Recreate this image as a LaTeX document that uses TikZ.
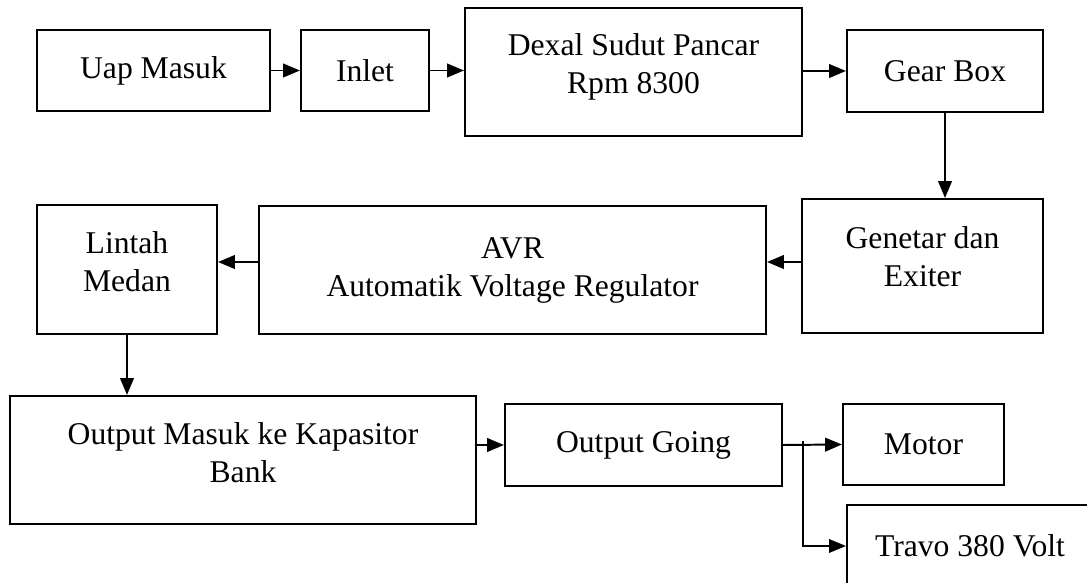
\documentclass[tikz,border=0pt]{standalone}
\usepackage{fontspec}
\setmainfont{Liberation Serif}
\usetikzlibrary{arrows.meta, calc, positioning}
\tikzset{
  blok/.style 2 args = {draw, line width=1.5pt, align=center, inner sep=0pt,
                        minimum width=#1*0.025cm, minimum height=#2*0.025cm,
                        font=\fontsize{22.5}{27}\selectfont},
  naik/.style        = {text depth=#1},
  panah/.style       = {-{Triangle[length=0.42cm, width=0.34cm]}, line width=1.4pt},
  cabang/.style      = {-{Triangle[length=0.42cm, width=0.34cm]}, line width=0.9pt},
}

\begin{document}
\begin{tikzpicture}[x=0.025cm, y=-0.025cm]
\useasboundingbox (0,0) rectangle (1087,583);
\clip (0,0) rectangle (1087,583);

% ---- top row ----------------------------------------------------------------
\node[blok={233}{81}]  (uap)    at (153.5,70.5) {Uap Masuk};
\node[blok={128}{81}]  (inlet)  at (365,70.5)   {Inlet};
\node[blok={337}{128}, naik=12pt] (dexal) at (633.5,72) {Dexal Sudut Pancar\\Rpm 8300};
\node[blok={196}{82}]  (gear)   at (945,71)     {Gear Box};

% ---- middle row ---------------------------------------------------------------
\node[blok={241}{134}, naik=12.8pt] (genetar) at (922.5,266) {Genetar dan\\Exiter};
\node[blok={507}{128}]              (avr)     at (512.5,270) {AVR\\Automatik Voltage Regulator};
\node[blok={180}{129}, naik=11.4pt] (lintah)  at (127,269.5) {Lintah\\Medan};

% ---- bottom row ---------------------------------------------------------------
\node[blok={466}{128}, naik=10pt] (kapasitor) at (243,460) {Output Masuk ke Kapasitor\\Bank};
\node[blok={277}{82}]  (going)     at (643.5,445)   {Output Going};
\node[blok={161}{81}]  (motor)     at (923.5,444.5) {Motor};
\node[blok={246}{82}]  (travo)     at (970,546)     {Travo 380 Volt};

% ---- connectors ---------------------------------------------------------------
\draw[panah] (uap) -- (inlet);
\draw[panah] (inlet.east) -- (inlet.east -| dexal.west);
\draw[panah] (gear.west -| dexal.east) -- (gear.west);
\draw[panah] (gear.south) -- (gear.south |- genetar.north);
\draw[panah] ($(genetar.west)+(0,-4)$) -- ($(genetar.west -| avr.east)+(0,-4)$);
\draw[panah] ($(avr.west)+(0,-8)$) -- ($(avr.west -| lintah.east)+(0,-8)$);
\draw[panah] (lintah.south) -- (lintah.south |- kapasitor.north);
\draw[panah] (going.west -| kapasitor.east) -- (going.west);
\draw[panah] (going.east) -- (motor.west);
\coordinate (pisah) at ($(going.east)+(20,-4)$);
\draw[cabang] (pisah) |- (travo.west);

\end{tikzpicture}
\end{document}
